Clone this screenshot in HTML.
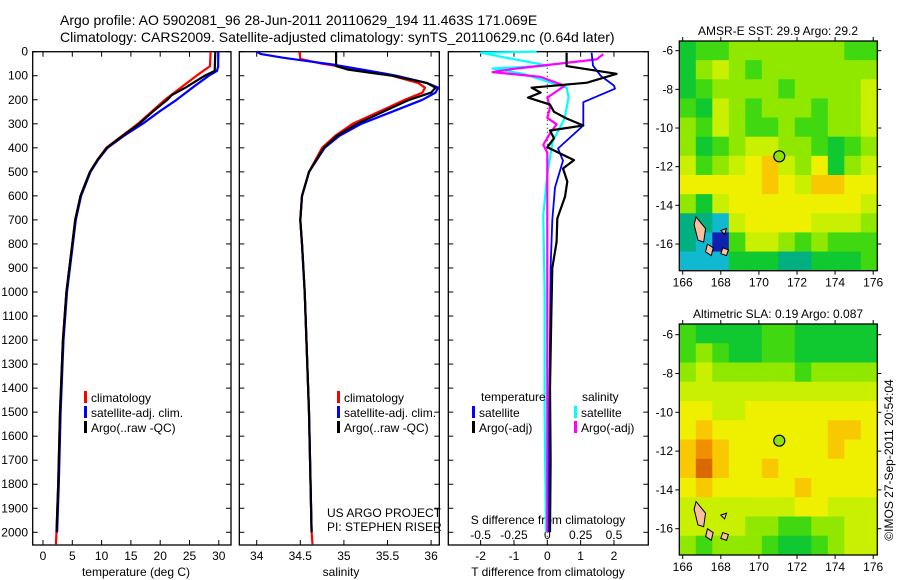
<!DOCTYPE html>
<html><head><meta charset="utf-8"><style>
html,body{margin:0;padding:0;background:#fff;}
svg{display:block;font-family:"Liberation Sans",sans-serif;}
text{fill:#000;}
</style></head><body>
<svg id="s" width="900" height="580" viewBox="0 0 900 580" xmlns="http://www.w3.org/2000/svg">
<text x="60" y="25" font-size="14">Argo profile: AO 5902081_96 28-Jun-2011 20110629_194 11.463S 171.069E</text>
<text x="60" y="42" font-size="14">Climatology: CARS2009. Satellite-adjusted climatology: synTS_20110629.nc (0.64d later)</text>
</svg>
<script>
// ---- data ----
const depthTicks=[0,100,200,300,400,500,600,700,800,900,1000,1100,1200,1300,1400,1500,1600,1700,1800,1900,2000];
const tempTicks=[0,5,10,15,20,25,30];
const salTicks=[34,34.5,35,35.5,36];
const salTickLabels=["34","34.5","35","35.5","36"];
const tdiffTicks=[-2,-1,0,1,2];
const sdiffTicks=[-0.5,-0.25,0,0.25,0.5];
const sdiffTickLabels=["-0.5","-0.25","0","0.25","0.5"];

const tClimDepth=[0,60,100,150,200,250,300,350,400,450,500,600,700,800,1000,1200,1500,1800,2000,2050];
const tClimVal=[28.6,28.5,26.2,23.5,20.8,18.5,16.2,13.5,10.8,9.3,8.0,6.4,5.5,5.0,4.0,3.4,2.9,2.6,2.3,2.2];
const tSatDepth=[0,60,80,100,150,200,250,300,350,400,450,500,600,700,800,1000,1200,1500,1800,2000];
const tSatVal=[29.9,29.9,29.7,28.3,25.5,22.8,19.8,17.0,13.8,11.0,9.4,8.1,6.5,5.6,5.1,4.1,3.5,3.0,2.7,2.4];
const tArgoDepth=[0,80,100,150,180,200,250,300,350,400,450,500,600,700,800,1000,1200,1500,1800,2000];
const tArgoVal=[29.4,29.3,27.6,24.3,22.0,21.2,18.7,16.4,13.6,10.9,9.3,8.0,6.4,5.5,5.0,4.0,3.4,2.9,2.6,2.3];

const sClimDepth=[0,30,50,70,100,130,150,170,200,250,300,350,400,500,600,700,800,1000,1500,2000,2050];
const sClimVal=[34.49,34.5,34.75,35.1,35.55,35.85,35.93,35.9,35.7,35.4,35.1,34.9,34.75,34.6,34.52,34.5,34.52,34.55,34.6,34.63,34.64];
const sSatDepth=[0,10,25,40,55,80,100,130,150,170,200,250,300,350,400,500,600,700,800,1000,1500,2000];
const sSatVal=[34.0,34.05,34.3,34.6,34.9,35.3,35.6,35.95,36.08,36.05,35.9,35.55,35.2,34.95,34.78,34.6,34.52,34.5,34.52,34.55,34.6,34.63];
const sArgoDepth=[0,60,75,100,130,150,170,200,250,300,350,400,500,600,700,800,1000,1500,2000];
const sArgoVal=[34.91,34.91,35.05,35.55,35.95,36.05,36.0,35.75,35.45,35.15,34.92,34.77,34.6,34.52,34.5,34.52,34.55,34.6,34.63];

const dTSatDepth=[4,58,100,141,154,210,286,307,403,453,565,700,900,1200,1500,2000];
const dTSatVal=[1.33,1.37,1.6,2.0,2.03,1.08,1.08,1.08,0.32,0.47,0.23,0.15,0.1,0.08,0.06,0.05];
const dTArgoDepth=[4,60,92,129,150,170,191,220,250,278,307,328,360,398,451,486,540,604,694,791,900,1100,1400,1700,2000];
const dTArgoVal=[0.58,0.58,2.08,1.19,-0.47,-0.2,-0.58,0.08,0.2,0.58,1.08,0.08,0.2,0.0,0.8,0.47,0.6,0.53,0.3,0.28,0.15,0.12,0.08,0.1,0.08];
const dSSatDepth=[0,4,58,70,92,150,191,278,374,512,680,1000,1500,2000];
const dSSatVal=[-0.08,-0.5,0.0,-0.41,-0.18,0.145,0.16,0.13,0.04,0.0,-0.03,-0.02,-0.02,-0.01];
const dSArgoDepth=[10,32,72,85,105,142,191,233,275,302,340,387,420,500,700,1000,1500,2000];
const dSArgoVal=[0.42,0.37,-0.26,-0.41,-0.05,0.13,0.0,0.02,0.0,0.07,0.02,-0.03,0.0,0.0,0.0,0.0,0.0,0.0];

const mapLonTicks=[166,168,170,172,174,176];
const mapLatTicks=[-6,-8,-10,-12,-14,-16];
const sstGrid=[
"344555555544","356545555555","345555455556","436545554556","546544544556","534566554345",
"645678657356","777778768877","536777777776","221677776665","210466545444","111333223334"];
const slaGrid=[
"433334433333","454334433333","565555545555","666666666666","776677777777","787777777887",
"898777777877","8A8778777777","787777787777","666666677666","666655445566","545554334566"];
const floatLon=171.069, floatLat=-11.463;

// ---- helpers ----
const S=document.getElementById('s');
const NS="http://www.w3.org/2000/svg";
function mk(tag,attrs,parent){const e=document.createElementNS(NS,tag);for(const k in attrs)e.setAttribute(k,attrs[k]);(parent||S).appendChild(e);return e;}
function txt(str,x,y,size,anchor,parent){const t=mk('text',{x:x,y:y,'font-size':size,'text-anchor':anchor||'start'},parent);t.textContent=str;return t;}

const Y0=51.7, YS=0.2403, PB=545;
const yD=d=>Y0+d*YS;
const xT=v=>43+v*5.86;
const xS=v=>256.7+(v-34)*87.2;
const xDT=v=>547.3+v*33.33;
const xDS=v=>547.3+v*133.3;

function panel(name,l,r){
  const g=mk('g',{});
  
  
  mk('rect',{x:l,y:Y0,width:r-l,height:PB-Y0,fill:'none',stroke:'#000','stroke-width':1.3},g);
  depthTicks.forEach(d=>{mk('line',{x1:l,x2:l+5,y1:yD(d),y2:yD(d),stroke:'#000'},g);mk('line',{x1:r-5,x2:r,y1:yD(d),y2:yD(d),stroke:'#000'},g);});
  return g;
}
function line(name,depths,vals,xf,color,w,parent){
  const p=depths.map((d,i)=>xf(vals[i]).toFixed(1)+','+yD(d).toFixed(1)).join(' ');
  const e=mk('polyline',{points:p,fill:'none',stroke:color,'stroke-width':w,'stroke-linejoin':'round'},parent);
  
  
}
function xticks(ticks,labels,xf,parent,ty){
  ticks.forEach((v,i)=>{mk('line',{x1:xf(v),x2:xf(v),y1:PB,y2:PB-5,stroke:'#000'},parent);mk('line',{x1:xf(v),x2:xf(v),y1:Y0,y2:Y0+5,stroke:'#000'},parent);txt(labels[i],xf(v),ty,12,'middle',parent);});
}
function legend(parent,x,y,items){
  items.forEach((it,i)=>{
    const yy=y+i*15;
    const r=mk('rect',{x:x,y:yy-6,width:3,height:12,fill:it[1]},parent);
    
    
    const t=txt(it[0],x+7,yy+5,12,'start',parent);
    
    
  });
}

// panel 1 temperature
const g1=panel('temperature-panel',32.7,231);
depthTicks.forEach(d=>txt(String(d),28,yD(d)+4,12,'end',g1));
xticks(tempTicks,tempTicks.map(String),xT,g1,560);
txt('temperature (deg C)',136,576,12,'middle',g1);
line('temp-climatology-line',tClimDepth,tClimVal,xT,'#f00',2.2,g1);
line('temp-satellite-line',tSatDepth,tSatVal,xT,'#00f',2.2,g1);
line('temp-argo-line',tArgoDepth,tArgoVal,xT,'#000',2.2,g1);
legend(g1,84,397,[['climatology','#f00'],['satellite-adj. clim.','#00f'],['Argo(..raw -QC)','#000']]);

// panel 2 salinity
const g2=panel('salinity-panel',239.3,439.3);
xticks(salTicks,salTickLabels,xS,g2,560);
txt('salinity',341,576,12,'middle',g2);
line('sal-climatology-line',sClimDepth,sClimVal,xS,'#f00',2.2,g2);
line('sal-satellite-line',sSatDepth,sSatVal,xS,'#00f',2.2,g2);
line('sal-argo-line',sArgoDepth,sArgoVal,xS,'#000',2.2,g2);
legend(g2,337,397,[['climatology','#f00'],['satellite-adj. clim.','#00f'],['Argo(..raw -QC)','#000']]);
txt('US ARGO PROJECT',327,517,12,'start',g2);
txt('PI: STEPHEN RISER',327,531,12,'start',g2);

// panel 3 differences
const g3=panel('difference-panel',448.3,648.3);
mk('line',{x1:xDT(0),x2:xDT(0),y1:Y0,y2:PB,stroke:'#000','stroke-dasharray':'1,3'},g3);
tdiffTicks.forEach(v=>{mk('line',{x1:xDT(v),x2:xDT(v),y1:PB,y2:PB-5,stroke:'#000'},g3);mk('line',{x1:xDT(v),x2:xDT(v),y1:Y0,y2:Y0+5,stroke:'#000'},g3);txt(String(v),xDT(v),560,12,'middle',g3);});
sdiffTicks.forEach((v,i)=>txt(sdiffTickLabels[i],xDS(v),539,12,'middle',g3));
txt('S difference from climatology',548,524,12,'middle',g3);
txt('T difference from climatology',548,576,12,'middle',g3);
line('sdiff-satellite-line',dSSatDepth,dSSatVal,xDS,'#0ff',2.2,g3);
line('sdiff-argo-line',dSArgoDepth,dSArgoVal,xDS,'#f0f',2.2,g3);
line('tdiff-satellite-line',dTSatDepth,dTSatVal,xDT,'#00f',1.8,g3);
line('tdiff-argo-line',dTArgoDepth,dTArgoVal,xDT,'#000',2.2,g3);
txt('temperature',481,401,12,'start',g3);
legend(g3,472,412,[['satellite','#00f'],['Argo(-adj)','#000']]);
txt('salinity',582,401,12,'start',g3);
legend(g3,574,412,[['satellite','#0ff'],['Argo(-adj)','#f0f']]);

// maps
const cmap={'0':'#1020b0','1':'#10b8d0','2':'#00b080','3':'#10c830','4':'#40d810','5':'#90e800','6':'#c8f000','7':'#eef000','8':'#f8c800','9':'#f09000','A':'#d86800'};
function drawMap(name,title,grid,top,bottom,lat6y,latS){
  const L=679.3,R=877.3;
  const xL=lon=>682.7+(lon-166)*19.05;
  const yL=lat=>lat6y+(-6-lat)*latS;
  const g=mk('g',{});
  
  
  const t=txt(title,778,top-6,12,'middle',g);
  
  
  const rows=grid.length, cols=grid[0].length;
  const cw=(R-L)/cols, ch=(bottom-top)/rows;
  grid.forEach((row,ri)=>{for(let ci=0;ci<cols;ci++){
    const c=mk('rect',{x:L+ci*cw,y:top+ri*ch,width:cw+0.5,height:ch+0.5,fill:cmap[row[ci]]},g);
    
    
  }});
  // islands
  const isl=[[[166.7,-14.6],[167.2,-15.2],[167.1,-15.9],[166.8,-15.8],[166.6,-15.0]],
             [[167.3,-16.0],[167.6,-16.2],[167.5,-16.6],[167.2,-16.4]],
             [[168.0,-15.3],[168.3,-15.2],[168.2,-15.5]],
             [[168.1,-16.2],[168.4,-16.3],[168.3,-16.6],[168.0,-16.5]]];
  isl.forEach(p=>{const e=mk('polygon',{points:p.map(q=>xL(q[0])+','+yL(q[1])).join(' '),fill:'#f8c0a0',stroke:'#000','stroke-width':1},g);
    
    });
  mk('rect',{x:L,y:top,width:R-L,height:bottom-top,fill:'none',stroke:'#000','stroke-width':1.3},g);
  const c=mk('circle',{cx:xL(floatLon),cy:yL(floatLat),r:5.5,fill:'#90e000',stroke:'#000','stroke-width':1.2},g);
  
  
  mapLonTicks.forEach(v=>{mk('line',{x1:xL(v),x2:xL(v),y1:bottom,y2:bottom+4,stroke:'#000'},g);mk('line',{x1:xL(v),x2:xL(v),y1:top,y2:top-4,stroke:'#000'},g);txt(String(v),xL(v),bottom+16,12,'middle',g);});
  mapLatTicks.forEach(v=>{mk('line',{x1:L-4,x2:L,y1:yL(v),y2:yL(v),stroke:'#000'},g);mk('line',{x1:R,x2:R+4,y1:yL(v),y2:yL(v),stroke:'#000'},g);txt(String(v),673,yL(v)+4,12,'end',g);});
}
drawMap('sst-map','AMSR-E SST: 29.9 Argo: 29.2',sstGrid,41,270.7,50.7,19.33);
drawMap('sla-map','Altimetric SLA: 0.19 Argo: 0.087',slaGrid,324,555,334.7,19.4);
const cr=txt('©IMOS 27-Sep-2011 20:54:04',0,0,12,'middle');
cr.setAttribute('transform','translate(893,460) rotate(-90)');


</script>
</body></html>
